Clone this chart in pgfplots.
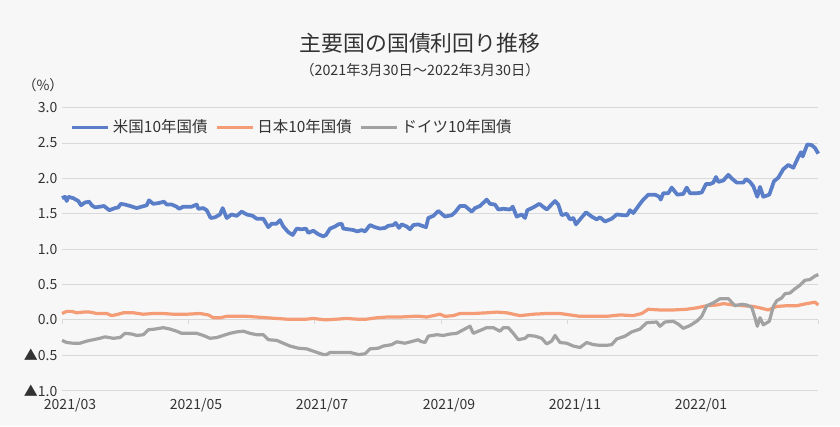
\documentclass[border=0pt]{standalone}
\usepackage{fontspec}
\setmainfont{Noto Sans CJK JP}
\usepackage{pgfplots}
\pgfplotsset{compat=1.18}

\definecolor{bgc}{HTML}{F7F7F7}
\definecolor{gridc}{HTML}{D9D9D9}
\definecolor{txtc}{HTML}{333333}
\definecolor{usc}{HTML}{5A7FC8}
\definecolor{jpc}{HTML}{F49C76}
\definecolor{dec}{HTML}{A2A2A2}

\begin{document}
\begin{tikzpicture}[x=0.75pt,y=0.75pt]
% background, 840x426 px
\fill[bgc] (0,0) rectangle (840,426);

\node[font=\fontsize{16.4}{18}\selectfont, text=txtc] at (420,383) {主要国の国債利回り推移};
\node[font=\fontsize{10.7}{12}\selectfont, text=txtc] at (420,356) {（2021年3月30日～2022年3月30日）};
\node[font=\fontsize{10.5}{12}\selectfont, text=txtc] at (43,341) {（\%）};

\begin{axis}[
    at={(62,50)}, anchor=south west,
    scale only axis,
    width=567pt, height=212.25pt,
    xmin=62, xmax=818,
    ymin=-1, ymax=3,
    clip=false,
    axis line style={draw=none},
    major tick length=0pt,
    tick style={draw=none},
    ytick={-1,-0.5,0,0.5,1,1.5,2,2.5,3},
    yticklabels={▲1.0,▲0.5,0.0,0.5,1.0,1.5,2.0,2.5,3.0},
    xtick={62,188,314,441,567,693},
    xticklabels={2021/03,2021/05,2021/07,2021/09,2021/11,2022/01},
    xticklabel style={xshift=6pt, yshift=-2pt},
    ticklabel style={font=\fontsize{10.5}{12}\selectfont, text=txtc},
    /pgf/number format/assume math mode=true,
    ymajorgrids,
    grid style={gridc, line width=0.75pt},
    legend columns=3,
    legend style={at={(rel axis cs:0.011,0.93)}, anchor=west,
        draw=none, fill=none, inner sep=0pt,
        font=\fontsize{11.6}{13}\selectfont, text=txtc,
        /tikz/every even column/.append style={column sep=4pt}},
    legend image code/.code={\draw[#1] (0pt,0pt) -- (27pt,0pt);},
]

\pgfplotsinvokeforeach{62,188,314,441,567,693,818}{
    \draw[gridc, line width=0.75pt] (axis cs:#1,0) -- (axis cs:#1,-0.06);
}

% US 10Y
\addplot[usc, line width=2.8pt, line join=round] coordinates {
(62,1.72)(65,1.74)(66.7,1.68)(68.3,1.74)(73.3,1.72)(78.3,1.68)(81,1.62)(85,1.66)
(89.3,1.67)(91.7,1.62)(95,1.59)(100,1.60)(104,1.61)(109.3,1.55)(115,1.58)(118.3,1.59)
(120.7,1.64)(125,1.63)(130,1.61)(136.7,1.58)(141.7,1.60)(146.7,1.62)(149,1.69)(153.3,1.64)
(158.3,1.65)(164,1.67)(166.7,1.63)(171.7,1.63)(176.7,1.60)(179,1.57)(183.3,1.60)(188.3,1.60)
(191.7,1.60)(196.7,1.63)(198.3,1.57)(203.3,1.58)(206.7,1.55)(210.7,1.44)(215,1.45)(220,1.49)
(222.7,1.58)(226.7,1.44)(231.7,1.49)(236.7,1.47)(241.7,1.53)(246.7,1.49)(252.7,1.47)(256.7,1.43)
(263.3,1.43)(268.3,1.31)(271.7,1.36)(276.7,1.36)(280,1.41)(283.3,1.32)(288.3,1.24)(292.7,1.20)
(296.7,1.29)(301.7,1.28)(306,1.29)(308.3,1.23)(313.3,1.26)(318.3,1.21)(323.3,1.18)(326,1.20)
(330,1.29)(335,1.32)(338.3,1.35)(341.7,1.36)(343.3,1.29)(348.3,1.28)(353.3,1.27)(357.3,1.25)
(361.7,1.27)(365,1.25)(370,1.34)(375,1.31)(380,1.29)(385,1.30)(388.3,1.33)(393.3,1.34)
(395.7,1.37)(399,1.30)(401.7,1.35)(406.7,1.32)(410,1.28)(413.3,1.34)(418.3,1.35)(420,1.34)
(426,1.31)(428.3,1.44)(433.3,1.47)(438.3,1.54)(445,1.46)(451.7,1.48)(455,1.52)(460,1.61)
(465,1.61)(471.7,1.53)(475,1.58)(480,1.61)(486.7,1.70)(490,1.64)(495,1.63)(498.3,1.56)
(503.3,1.57)(510,1.56)(512.7,1.60)(516.7,1.46)(521.7,1.49)(525,1.44)(527.3,1.55)(533.3,1.59)
(539.3,1.64)(546.7,1.56)(555,1.68)(558.3,1.63)(561.7,1.48)(566.7,1.50)(570,1.42)(573.3,1.44)
(576,1.35)(580,1.42)(586,1.52)(591.7,1.46)(596.7,1.42)(600,1.45)(605,1.39)(611.7,1.43)
(616.7,1.49)(623.3,1.48)(627.3,1.48)(630,1.55)(633.3,1.51)(640,1.64)(643.3,1.70)(648.3,1.77)
(655,1.77)(659.3,1.74)(660.7,1.70)(663.3,1.79)(668.3,1.79)(671.7,1.87)(677.3,1.77)(683.3,1.78)
(686.7,1.87)(690,1.79)(696.7,1.79)(701.7,1.80)(706,1.92)(710,1.92)(713.3,1.94)(716,2.02)
(718.3,1.95)(723.3,1.97)(728.3,2.05)(731.7,2.00)(736.7,1.94)(743.3,1.94)(746,1.99)(750,1.95)
(753.3,1.89)(757.3,1.74)(760,1.88)(763.3,1.74)(769.3,1.77)(774,1.96)(778.3,2.01)(783.3,2.13)
(788.3,2.19)(793.3,2.15)(798.3,2.30)(801,2.37)(802.7,2.31)(807.3,2.48)(811.7,2.47)(815,2.43)
(818.3,2.35)
};
\addlegendentry{米国10年国債}

% Japan 10Y
\addplot[jpc, line width=2.4pt, line join=round] coordinates {
(62,0.09)(66.7,0.12)(71.7,0.12)(76.7,0.10)(83.3,0.11)(90,0.11)(96.7,0.09)(106.7,0.09)
(111.7,0.06)(118.3,0.08)(123.3,0.10)(133.3,0.10)(143.3,0.08)(153.3,0.09)(163.3,0.09)(173.3,0.08)
(186.7,0.08)(200,0.09)(208.3,0.07)(213.3,0.03)(220,0.03)(226.7,0.05)(236.7,0.05)(246.7,0.05)
(256.7,0.04)(266.7,0.03)(276.7,0.02)(286.7,0.01)(296.7,0.01)(306.7,0.01)(313.3,0.02)(325,0.00)
(336.7,0.01)(346.7,0.02)(356.7,0.01)(366.7,0.01)(376.7,0.03)(386.7,0.04)(400,0.04)(413.3,0.05)
(420,0.05)(426.7,0.04)(433.3,0.06)(440,0.08)(445,0.05)(453.3,0.06)(460,0.09)(473.3,0.09)
(486.7,0.10)(496.7,0.11)(506.7,0.10)(520,0.06)(533.3,0.08)(546.7,0.09)(560,0.09)(570,0.07)
(580,0.05)(593.3,0.05)(606.7,0.05)(620,0.07)(633.3,0.06)(641.7,0.09)(648.3,0.15)(660,0.14)
(673.3,0.14)(686.7,0.15)(696.7,0.17)(706.7,0.20)(716.7,0.21)(723.3,0.23)(733.3,0.21)(743.3,0.20)
(753.3,0.19)(760,0.17)(768.3,0.14)(776.7,0.19)(786.7,0.20)(796.7,0.20)(806.7,0.23)(815,0.25)
(818.3,0.21)
};
\addlegendentry{日本10年国債}

% Germany 10Y
\addplot[dec, line width=2.4pt, line join=round] coordinates {
(62,-0.29)(66.7,-0.32)(73.3,-0.33)(80,-0.33)(86.7,-0.30)(93.3,-0.28)(100,-0.26)(105,-0.24)
(113.3,-0.26)(120,-0.25)(125,-0.19)(131.7,-0.20)(136.7,-0.22)(143.3,-0.21)(148.3,-0.14)(155,-0.13)
(163.3,-0.11)(170,-0.13)(176.7,-0.16)(181.7,-0.19)(190,-0.19)(196.7,-0.19)(203.3,-0.22)(210,-0.26)
(216.7,-0.25)(223.3,-0.22)(230,-0.19)(236.7,-0.17)(243.3,-0.16)(250,-0.19)(256.7,-0.21)(263.3,-0.21)
(268.3,-0.28)(276.7,-0.29)(283.3,-0.33)(290,-0.37)(298.3,-0.40)(306.7,-0.41)(315,-0.45)(323.3,-0.49)
(326.7,-0.49)(330,-0.46)(340,-0.46)(350,-0.46)(358.3,-0.49)(365,-0.48)(370,-0.41)(378.3,-0.40)
(383.3,-0.37)(391.7,-0.35)(396.7,-0.31)(405,-0.33)(413.3,-0.30)(418.3,-0.28)(420,-0.30)(425,-0.32)
(428.3,-0.23)(436.7,-0.21)(443.3,-0.22)(450,-0.20)(456.7,-0.19)(463.3,-0.14)(470,-0.09)(473.3,-0.19)
(480,-0.15)(486.7,-0.11)(493.3,-0.11)(500,-0.16)(503.3,-0.11)(508.3,-0.11)(513.3,-0.19)(518.3,-0.28)
(525,-0.26)(528.3,-0.22)(535,-0.23)(541.7,-0.26)(546.7,-0.34)(551.7,-0.30)(555,-0.22)(560,-0.32)
(566.7,-0.33)(573.3,-0.37)(580,-0.39)(586.7,-0.32)(593.3,-0.35)(600,-0.36)(606.7,-0.36)(611.7,-0.35)
(616.7,-0.27)(625,-0.23)(631.7,-0.17)(640,-0.13)(646.7,-0.04)(656.7,-0.03)(660,-0.09)(665,-0.03)
(673.3,-0.02)(678.3,-0.06)(683.3,-0.12)(690,-0.08)(696.7,-0.02)(701.7,0.05)(706.7,0.20)(713.3,0.24)
(720,0.30)(728.3,0.30)(735,0.20)(741.7,0.22)(746.7,0.21)(751.7,0.18)(755,0.03)(757.3,-0.09)
(760,0.03)(763.3,-0.07)(769.3,-0.02)(773.3,0.19)(776.7,0.27)(781.7,0.31)(785,0.37)(790,0.38)
(795,0.44)(800,0.49)(805,0.56)(810,0.57)(815,0.62)(818.3,0.64)
};
\addlegendentry{ドイツ10年国債}

\end{axis}
\end{tikzpicture}
\end{document}
